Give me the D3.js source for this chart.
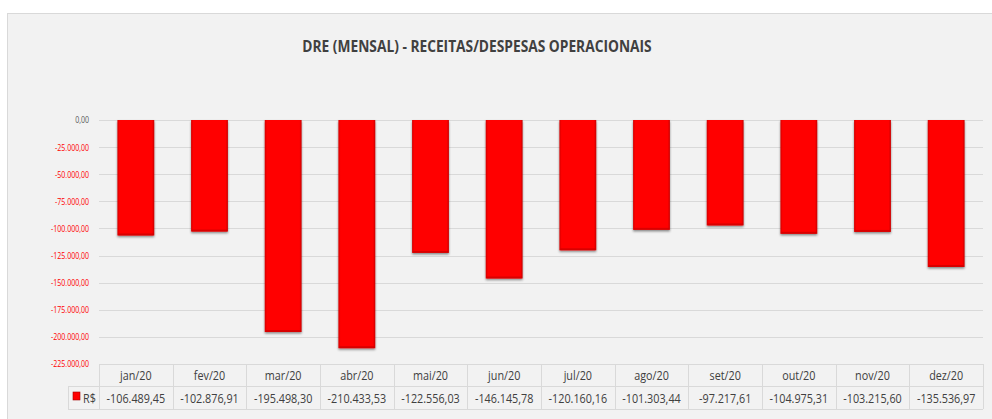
<!DOCTYPE html>
<html>
<head>
<meta charset="utf-8">
<script src="https://cdn.jsdelivr.net/npm/d3@7"></script>
<style>
  html, body { margin: 0; padding: 0; background: #ffffff; }
  svg { display: block; }
</style>
</head>
<body>
<svg id="chart" width="992" height="419"></svg>
<script>
const title = "DRE (MENSAL) - RECEITAS/DESPESAS OPERACIONAIS";
const categories = ["jan/20","fev/20","mar/20","abr/20","mai/20","jun/20","jul/20","ago/20","set/20","out/20","nov/20","dez/20"];
const values = [-106489.45,-102876.91,-195498.30,-210433.53,-122556.03,-146145.78,-120160.16,-101303.44,-97217.61,-104975.31,-103215.60,-135536.97];
const yTicks = [0,-25000,-50000,-75000,-100000,-125000,-150000,-175000,-200000,-225000];
const seriesName = "R$";

const fmt = v => {
  const s = Math.abs(v).toFixed(2).split(".");
  const int = s[0].replace(/\B(?=(\d{3})+(?!\d))/g, ".");
  return (v < 0 ? "-" : "") + int + "," + s[1];
};

const svg = d3.select("#chart");
const font = "'Open Sans', sans-serif";
const SX = 0.8; // horizontal condensation to mimic a narrow font

// chart background
svg.append("rect").attr("x", 7.5).attr("y", 13.5).attr("width", 992).attr("height", 420)
  .attr("fill", "#f2f2f2").attr("stroke", "#d9d9d9");

// defs for bar style
const defs = svg.append("defs");
const f = defs.append("filter").attr("id", "shadow").attr("x", "-20%").attr("y", "-10%").attr("width", "140%").attr("height", "130%");
f.append("feDropShadow").attr("dx", 0).attr("dy", 1.5).attr("stdDeviation", 1.2).attr("flood-color", "#000").attr("flood-opacity", 0.45);
const g1 = defs.append("linearGradient").attr("id", "bevelH").attr("x1", 0).attr("x2", 1).attr("y1", 0).attr("y2", 0);
g1.append("stop").attr("offset", "0%").attr("stop-color", "#d40000");
g1.append("stop").attr("offset", "6%").attr("stop-color", "#ff0000");
g1.append("stop").attr("offset", "94%").attr("stop-color", "#ff0000");
g1.append("stop").attr("offset", "100%").attr("stop-color", "#c80000");

const left = 99, right = 983;
const y = d3.scaleLinear().domain([-225000, 0]).range([364, 120]);
const x = d3.scaleBand().domain(categories).range([left, right]).paddingInner(0.5).paddingOuter(0.25);
const col = d3.scaleBand().domain(categories).range([left, right]);

// title
svg.append("text").attr("transform", "translate(477,52) scale(0.86,1)").attr("text-anchor", "middle")
  .attr("font-family", font).attr("font-weight", "bold").attr("font-size", 16)
  .attr("fill", "#404040").text(title);

// grid
svg.append("g").selectAll("line").data(yTicks).join("line")
  .attr("x1", left).attr("x2", right)
  .attr("y1", d => Math.round(y(d)) + 0.5).attr("y2", d => Math.round(y(d)) + 0.5)
  .attr("stroke", "#d9d9d9").attr("stroke-width", 1);

// y axis labels
const yAxis = d3.axisLeft(y).tickValues(yTicks).tickFormat(fmt).tickSize(0).tickPadding(0);
const ya = svg.append("g").attr("transform", "translate(89,0)").call(yAxis);
ya.select(".domain").remove();
ya.selectAll("text").attr("font-family", font).attr("font-size", 9)
  .attr("transform", "scale(0.78,1)")
  .attr("fill", d => d < 0 ? "#ff0000" : "#595959");

// bars
svg.append("g").selectAll("rect").data(values).join("rect")
  .attr("x", (d, i) => x(categories[i]))
  .attr("y", y(0))
  .attr("width", x.bandwidth())
  .attr("height", d => y(d) - y(0))
  .attr("fill", "url(#bevelH)")
  .attr("filter", "url(#shadow)");
svg.append("g").selectAll("rect").data(values).join("rect")
  .attr("x", (d, i) => x(categories[i]) + 1)
  .attr("y", d => y(d) - 2)
  .attr("width", x.bandwidth() - 2)
  .attr("height", 2)
  .attr("fill", "#c00000").attr("opacity", 0.6);

// data table
const tb = svg.append("g");
const rowTop = 364, rowMid = 386, rowBot = 409, legLeft = 68;
const lineC = "#d9d9d9";
tb.append("line").attr("x1", left).attr("x2", right).attr("y1", rowTop + 0.5).attr("y2", rowTop + 0.5).attr("stroke", lineC);
tb.append("line").attr("x1", legLeft).attr("x2", right).attr("y1", rowMid + 0.5).attr("y2", rowMid + 0.5).attr("stroke", lineC);
tb.append("line").attr("x1", legLeft).attr("x2", right).attr("y1", rowBot + 0.5).attr("y2", rowBot + 0.5).attr("stroke", lineC);
tb.append("line").attr("x1", legLeft + 0.5).attr("x2", legLeft + 0.5).attr("y1", rowMid).attr("y2", rowBot).attr("stroke", lineC);
const bounds = categories.map(c => col(c)).concat([right]);
tb.selectAll("line.v").data(bounds).join("line").attr("class", "v")
  .attr("x1", d => Math.round(d) + 0.5).attr("x2", d => Math.round(d) + 0.5)
  .attr("y1", rowTop).attr("y2", rowBot).attr("stroke", lineC);

tb.selectAll("text.h").data(categories).join("text").attr("class", "h")
  .attr("transform", d => `translate(${col(d) + col.bandwidth() / 2},380) scale(${SX},1)`)
  .attr("text-anchor", "middle").attr("font-family", font).attr("font-size", 13.5)
  .attr("fill", "#404040").text(d => d);
tb.selectAll("text.v").data(values).join("text").attr("class", "v")
  .attr("transform", (d, i) => `translate(${col(categories[i]) + col.bandwidth() / 2},403) scale(${SX},1)`)
  .attr("text-anchor", "middle").attr("font-family", font).attr("font-size", 13.5)
  .attr("fill", "#404040").text(d => fmt(d));

// legend key
tb.append("rect").attr("x", 73).attr("y", 392).attr("width", 7).attr("height", 8)
  .attr("fill", "#ff0000").attr("stroke", "#a00000").attr("stroke-width", 0.6);
tb.append("text").attr("transform", `translate(83,403) scale(${SX},1)`).attr("font-family", font).attr("font-size", 13.5)
  .attr("fill", "#404040").text(seriesName);
</script>
</body>
</html>
